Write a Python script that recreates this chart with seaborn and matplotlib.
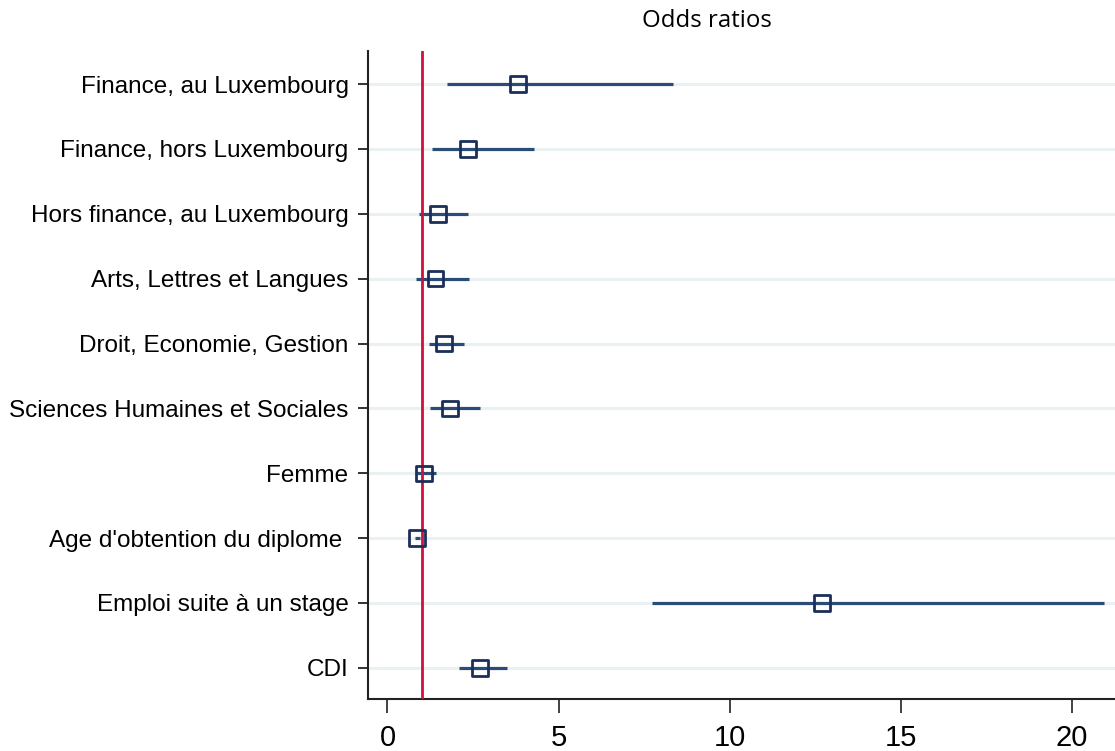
import matplotlib
matplotlib.use("Agg")
import matplotlib.pyplot as plt
import seaborn as sns
import pandas as pd

# Regression results: odds ratios with 95% confidence bounds
variables = [
    "Finance, au Luxembourg",
    "Finance, hors Luxembourg",
    "Hors finance, au Luxembourg",
    "Arts, Lettres et Langues",
    "Droit, Economie, Gestion",
    "Sciences Humaines et Sociales",
    "Femme",
    "Age d'obtention du diplome ",
    "Emploi suite à un stage",
    "CDI",
]
odds_ratio = [3.82, 2.35, 1.48, 1.41, 1.65, 1.83, 1.07, 0.87, 12.70, 2.71]
ci_low = [1.75, 1.29, 0.93, 0.84, 1.21, 1.25, 0.87, 0.80, 7.73, 2.09]
ci_high = [8.36, 4.28, 2.35, 2.38, 2.25, 2.70, 1.41, 0.95, 20.95, 3.50]
x_ticks = [0, 5, 10, 15, 20]

df = pd.DataFrame({
    "variable": variables,
    "or": odds_ratio,
    "lo": ci_low,
    "hi": ci_high,
})
df["pos"] = range(len(df))

sns.set_theme(style="white")
plt.rcParams["font.family"] = ["Liberation Sans", "DejaVu Sans"]

fig = plt.figure(figsize=(11.15, 7.51), dpi=100)
ax = fig.add_axes([368 / 1115, 1 - 699 / 751, 1 - 368 / 1115, (699 - 51) / 751])

# Light horizontal guide lines at each coefficient
for p in df["pos"]:
    ax.axhline(p, color="#eaf1f3", lw=2.2, zorder=0)

# Confidence intervals
ax.hlines(df["pos"], df["lo"], df["hi"], color="#2a4d78", lw=2.3, zorder=2)

# Reference line at OR = 1
ax.axvline(1, color="#d0103a", lw=2.0, zorder=3)

# Point estimates as hollow squares
sns.scatterplot(data=df, x="or", y="pos", marker="s", s=125,
                facecolor="none", edgecolor="#1c2f5a", linewidth=2.0,
                ax=ax, zorder=4, legend=False)

ax.set_xlim(-0.57, 21.27)
ax.set_ylim(9.48, -0.51)
ax.set_xticks(x_ticks)
ax.set_xticklabels([str(t) for t in x_ticks], fontsize=21, color="black")
ax.set_yticks(df["pos"])
ax.set_yticklabels(df["variable"], fontsize=17.5, color="black")
ax.set_xlabel("")
ax.set_ylabel("")

for side in ["top", "right"]:
    ax.spines[side].set_visible(False)
for side in ["left", "bottom"]:
    ax.spines[side].set_color("#222222")
    ax.spines[side].set_linewidth(1.5)

ax.tick_params(axis="y", which="major", direction="out", length=7, width=1.3,
               color="#222222", pad=7, left=True)
ax.tick_params(axis="x", which="major", direction="out", length=10, width=1.3,
               color="#333333", pad=8, bottom=True)

fig.text(707 / 1115, 1 - 21 / 751, "Odds ratios", ha="center", va="center",
         fontsize=17.3, family=["Open Sans", "DejaVu Sans"], color="black")

fig.savefig("out.png", dpi=100, facecolor="white")
